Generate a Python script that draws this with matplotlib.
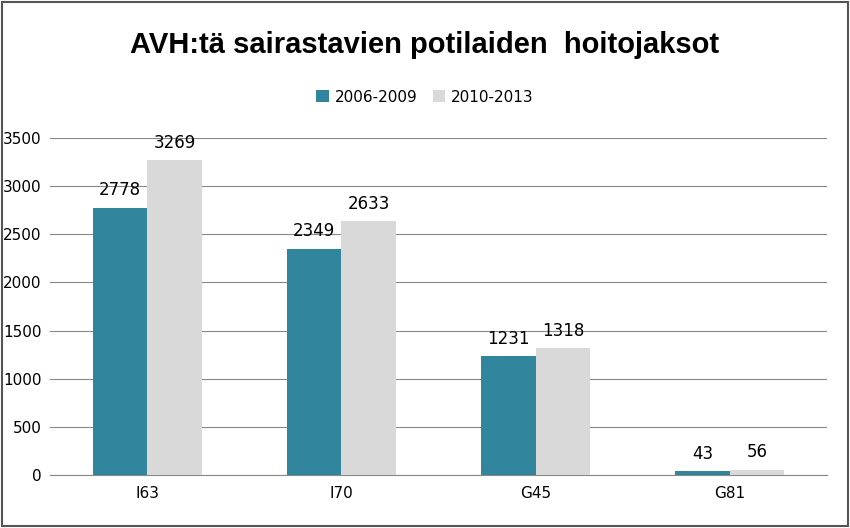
import matplotlib.pyplot as plt
import numpy as np

# Data
categories = ["I63", "I70", "G45", "G81"]
series_names = ["2006-2009", "2010-2013"]
values_2006 = [2778, 2349, 1231, 43]
values_2010 = [3269, 2633, 1318, 56]

colors = ["#31859C", "#D9D9D9"]

fig = plt.figure(figsize=(8.5, 5.28), dpi=100)
ax = fig.add_axes([50 / 850, 1 - 475 / 528, 777 / 850, 337 / 528])

x = np.arange(len(categories))
w = 0.28
b1 = ax.bar(x - w / 2, values_2006, w, color=colors[0], label=series_names[0], zorder=3)
b2 = ax.bar(x + w / 2, values_2010, w, color=colors[1], label=series_names[1], zorder=3)
for bars in (b1, b2):
    ax.bar_label(bars, padding=6, fontsize=12, family="DejaVu Sans")

ax.set_xlim(-0.5, len(categories) - 0.5)
ax.set_ylim(0, 3500)
ax.set_yticks(range(0, 3501, 500))
ax.set_xticks(x)
ax.set_xticklabels(categories)
ax.tick_params(axis="both", labelsize=11, length=0)
ax.yaxis.grid(True, color="#888888", linewidth=0.8, zorder=0)
for s in ["top", "right", "left"]:
    ax.spines[s].set_visible(False)
ax.spines["bottom"].set_color("#888888")
ax.tick_params(axis="x", pad=8)
ax.tick_params(axis="y", pad=6)

fig.text(0.5, 1 - 45 / 528, "AVH:tä sairastavien potilaiden  hoitojaksot",
         ha="center", va="center", fontsize=21, fontweight="bold", family="Liberation Sans")
fig.legend(handles=[b1, b2], loc="center", bbox_to_anchor=(0.5, 1 - 97 / 528),
           ncol=2, frameon=False, fontsize=11, handlelength=0.8, handleheight=0.8,
           columnspacing=1.0, handletextpad=0.4)

fig.patches.append(plt.Rectangle((0.002, 0.003), 0.996, 0.994, transform=fig.transFigure,
                                 fill=False, edgecolor="#555555", linewidth=1.5))

fig.savefig("out.png", dpi=100)
